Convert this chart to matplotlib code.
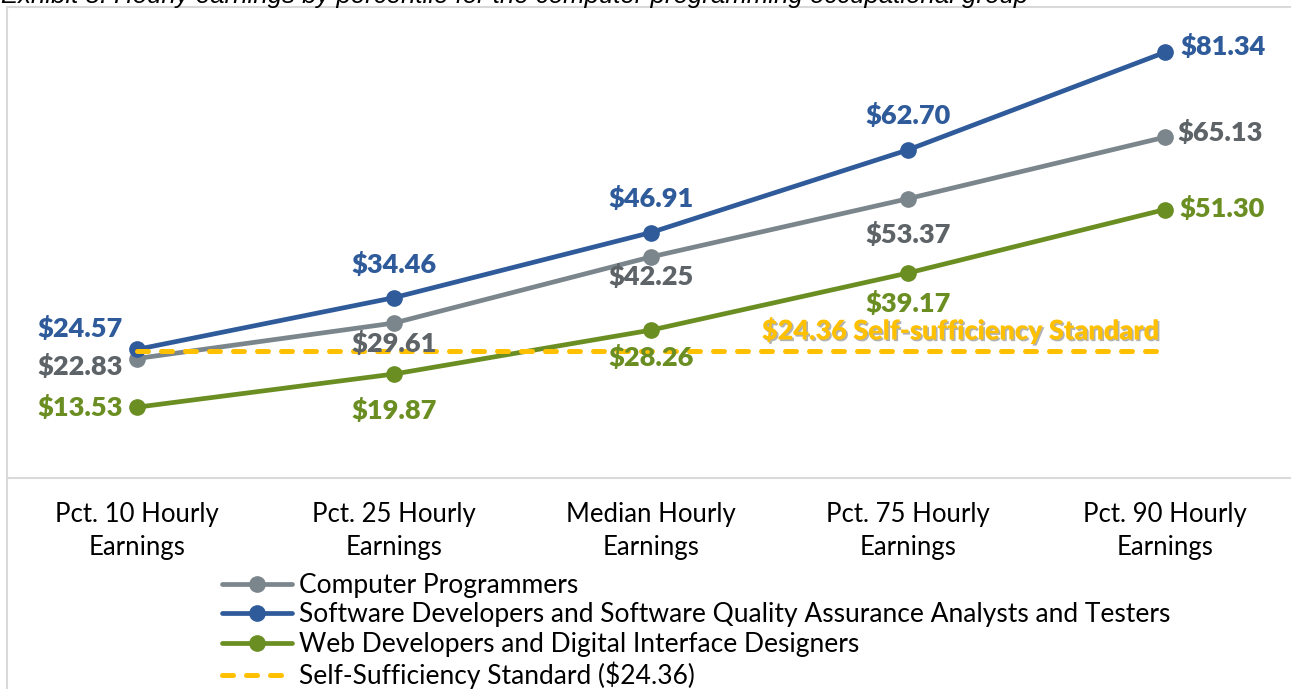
import matplotlib
matplotlib.use('Agg')
import matplotlib.pyplot as plt
import matplotlib.patches as patches
import matplotlib.patheffects as pe

# данные
categories = ['Pct. 10 Hourly\nEarnings', 'Pct. 25 Hourly\nEarnings', 'Median Hourly\nEarnings',
              'Pct. 75 Hourly\nEarnings', 'Pct. 90 Hourly\nEarnings']
programmers = [22.83, 29.61, 42.25, 53.37, 65.13]
software_devs = [24.57, 34.46, 46.91, 62.70, 81.34]
web_devs = [13.53, 19.87, 28.26, 39.17, 51.30]
standard = 24.36

names = ['Computer Programmers',
         'Software Developers and Software Quality Assurance Analysts and Testers',
         'Web Developers and Digital Interface Designers',
         'Self-Sufficiency Standard ($24.36)']

GRAY = '#7b868c'
GRAY_TXT = '#5d6367'
BLUE = '#2f5b9b'
GREEN = '#6b8e23'
YELLOW = '#ffc000'

W, H = 1291, 689
fig = plt.figure(figsize=(W / 100, H / 100), dpi=100)
ax = fig.add_axes([8.5 / W, (H - 478) / H, 1285 / W, 471 / H])

x = list(range(len(categories)))

ax.plot(x, programmers, color=GRAY, lw=3.4, marker='o', ms=11, solid_capstyle='round', label=names[0], zorder=3)
ax.plot(x, software_devs, color=BLUE, lw=3.4, marker='o', ms=11, solid_capstyle='round', label=names[1], zorder=4)
ax.plot(x, web_devs, color=GREEN, lw=3.4, marker='o', ms=11, solid_capstyle='round', label=names[2], zorder=3)
ax.plot(x, [standard] * len(x), color=YELLOW, lw=3.6, ls=(0, (2.2, 2.6)), dash_capstyle='round',
        label=names[3], zorder=5)

ax.set_xlim(-0.5, len(x) - 0.5)
ax.set_ylim(0, 90)
ax.set_yticks([])
ax.set_xticks(x)
ax.set_xticklabels(categories, fontsize=18.5, family='Lato', linespacing=1.4)
ax.tick_params(axis='x', length=0, pad=17)
for s in ['top', 'right', 'left']:
    ax.spines[s].set_visible(False)
ax.spines['bottom'].set_color('#d9d9d9')
ax.spines['bottom'].set_linewidth(1.5)

# подписи значений: смещения в пикселях
offs_blue = [(-57, 21), (0, 33), (0, 34), (0, 34), (58, 6)]
offs_gray = [(-57, -8), (0, -20), (0, -20), (0, -36), (55, 5)]
offs_green = [(-57, 0), (0, -36), (0, -27), (0, -30), (57, 1)]


def put_labels(vals, offs, color):
    for i, (v, (dx, dy)) in enumerate(zip(vals, offs)):
        ax.annotate(f'${v:.2f}', (i, v), xytext=(dx * 0.72, dy * 0.72), textcoords='offset points',
                    ha='center', va='center', fontsize=19.5, fontweight='heavy', family='Lato',
                    color=color, zorder=6)


put_labels(software_devs, offs_blue, BLUE)
put_labels(programmers, offs_gray, GRAY_TXT)
put_labels(web_devs, offs_green, GREEN)

ax.annotate(f'${standard:.2f} Self-sufficiency Standard', (3, standard), xytext=(53 * 0.72, 20 * 0.72),
            textcoords='offset points', ha='center', va='center', fontsize=19.5, fontweight='heavy',
            family='Lato', color=YELLOW, zorder=6,
            path_effects=[pe.SimplePatchShadow(offset=(1.2, -1.2), shadow_rgbFace='#808080', alpha=0.6),
                          pe.Normal()])

# рамка вокруг диаграммы
frame = patches.Rectangle((7 / W, -0.1), 1.2, 1.1 - 7 / H, transform=fig.transFigure, fill=False,
                          edgecolor='#d9d9d9', lw=1.5)
fig.add_artist(frame)

fig.text(1 / W, 1 - 3 / H, 'Exhibit 8: Hourly earnings by percentile for the computer programming occupational group',
         fontsize=18.5, style='italic', family='Liberation Sans', va='baseline', ha='left')

fig.legend(loc='upper left', bbox_to_anchor=(222 / W, 1 - 573 / H), frameon=False,
           prop={'family': 'Lato', 'size': 19}, handlelength=2.65, handletextpad=0.25, labelspacing=0.17,
           borderpad=0, borderaxespad=0, numpoints=1)

plt.savefig('out.png', dpi=100)
